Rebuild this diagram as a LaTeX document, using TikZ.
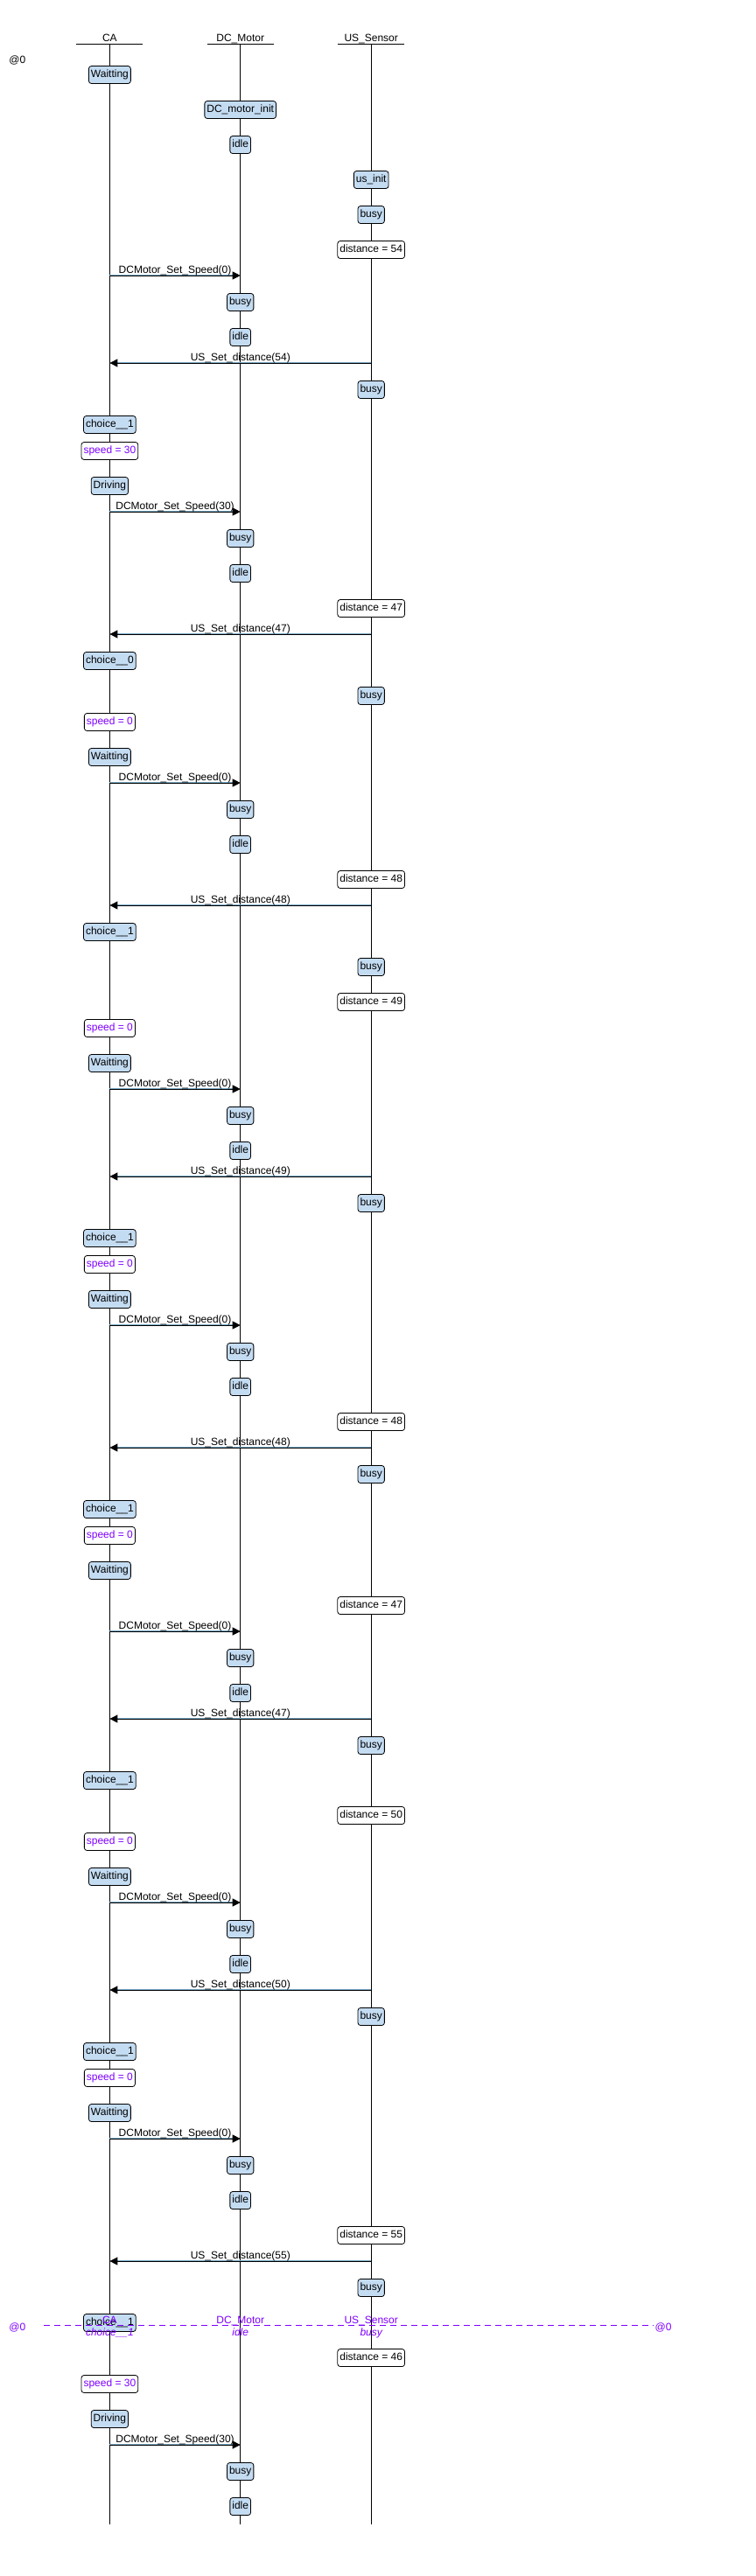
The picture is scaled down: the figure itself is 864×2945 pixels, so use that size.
\documentclass[tikz,border=0pt]{standalone}
\usepackage{fontspec}
\setmainfont{Liberation Sans}
\usetikzlibrary{arrows.meta,calc}
\definecolor{stfill}{RGB}{196,220,242}
\definecolor{purp}{RGB}{127,0,255}
\definecolor{msgblue}{RGB}{120,170,200}
\newcommand\fs{\fontsize{12}{14}\selectfont}
\newcommand\xCA{125.4}
\newcommand\xDC{274.7}
\newcommand\xUS{424.2}
% message CA -> DC_Motor
\newcommand\MsgCD[3]{%
  \coordinate (#1a) at (\xCA,#2);
  \coordinate (#1b) at (\xDC,#2);
  \draw[msghl] ([yshift=1pt]#1a) -- ([yshift=1pt]#1b);
  \draw[msg] (#1a) -- (#1b);
  \node[mlabel] (#1l) at ($(#1a)!0.5!(#1b)+(0,-2.3)$) {#3};
}
% message US_Sensor -> CA
\newcommand\MsgUC[3]{%
  \coordinate (#1a) at (\xUS,#2);
  \coordinate (#1b) at (\xCA,#2);
  \draw[msghl] ([yshift=1pt]#1a) -- ([yshift=1pt]#1b);
  \draw[msg] (#1a) -- (#1b);
  \node[mlabel] (#1l) at ($(#1a)!0.5!(#1b)+(0,-2.3)$) {#3};
}
\begin{document}
\begin{tikzpicture}[x=1pt,y=-1pt,
  st/.style={draw=black, line width=0.8pt, fill=stfill, rounded corners=3pt,
    minimum height=20pt, inner xsep=2.5pt, inner ysep=0pt,
    text height=8.8pt, text depth=2.6pt, font=\fs},
  val/.style={st, fill=white},
  spd/.style={val, text=purp},
  life/.style={line width=0.8pt},
  headline/.style={line width=1pt},
  headtext/.style={font=\fs, anchor=base, inner sep=0pt},
  msg/.style={line width=1pt, -{Triangle[length=9pt,width=9pt]}},
  msghl/.style={line width=0.7pt, draw=msgblue, shorten >=9pt},
  mlabel/.style={font=\fs, anchor=base, inner sep=0pt},
  ptext/.style={font=\fs, text=purp, inner sep=0pt},
  pdash/.style={draw=purp, line width=0.8pt, dash pattern=on 7pt off 5pt}
]
\fill[white] (0,0) rectangle (864,2945);
\useasboundingbox (0,0) rectangle (864,2945);

% time marker
\node[font=\fs, inner sep=0pt] (t0) at (19.8,69) {@0};

% headers and lifelines
\node[headtext] (hCA) at (\xCA,47.5) {CA};
\node[headtext] (hDC) at (\xDC,47.5) {DC\_Motor};
\node[headtext] (hUS) at (\xUS,47.5) {US\_Sensor};
\coordinate (caTop) at (\xCA,50.3);
\coordinate (dcTop) at (\xDC,50.3);
\coordinate (usTop) at (\xUS,50.3);
\coordinate (caBot) at (\xCA,2885.7);
\coordinate (dcBot) at (\xDC,2885.7);
\coordinate (usBot) at (\xUS,2885.7);
\draw[headline] ([xshift=-38pt]caTop) -- ([xshift=38pt]caTop);
\draw[headline] ([xshift=-38pt]dcTop) -- ([xshift=38pt]dcTop);
\draw[headline] ([xshift=-38pt]usTop) -- ([xshift=38pt]usTop);
\draw[life] (caTop) -- (caBot);
\draw[life] (dcTop) -- (dcBot);
\draw[life] (usTop) -- (usBot);

% messages
\MsgCD{m1}{315}{DCMotor\_Set\_Speed(0)}
\MsgUC{m2}{415}{US\_Set\_distance(54)}
\MsgCD{m3}{585}{DCMotor\_Set\_Speed(30)}
\MsgUC{m4}{725}{US\_Set\_distance(47)}
\MsgCD{m5}{895}{DCMotor\_Set\_Speed(0)}
\MsgUC{m6}{1035}{US\_Set\_distance(48)}
\MsgCD{m7}{1245}{DCMotor\_Set\_Speed(0)}
\MsgUC{m8}{1345}{US\_Set\_distance(49)}
\MsgCD{m9}{1515}{DCMotor\_Set\_Speed(0)}
\MsgUC{m10}{1655}{US\_Set\_distance(48)}
\MsgCD{m11}{1865}{DCMotor\_Set\_Speed(0)}
\MsgUC{m12}{1965}{US\_Set\_distance(47)}
\MsgCD{m13}{2175}{DCMotor\_Set\_Speed(0)}
\MsgUC{m14}{2275}{US\_Set\_distance(50)}
\MsgCD{m15}{2445}{DCMotor\_Set\_Speed(0)}
\MsgUC{m16}{2585}{US\_Set\_distance(55)}
\MsgCD{m17}{2795}{DCMotor\_Set\_Speed(30)}

% CA states
\node[st]  (ca1)  at (\xCA,85.5)   {Waitting};
\node[st]  (ca2)  at (\xCA,485.5)  {choice\_\_1};
\node[spd] (ca3)  at (\xCA,515.5)  {speed = 30};
\node[st]  (ca4)  at (\xCA,555.5)  {Driving};
\node[st]  (ca5)  at (\xCA,755.5)  {choice\_\_0};
\node[spd] (ca6)  at (\xCA,825.5)  {speed = 0};
\node[st]  (ca7)  at (\xCA,865.5)  {Waitting};
\node[st]  (ca8)  at (\xCA,1065.5) {choice\_\_1};
\node[spd] (ca9)  at (\xCA,1175.5) {speed = 0};
\node[st]  (ca10) at (\xCA,1215.5) {Waitting};
\node[st]  (ca11) at (\xCA,1415.5) {choice\_\_1};
\node[spd] (ca12) at (\xCA,1445.5) {speed = 0};
\node[st]  (ca13) at (\xCA,1485.5) {Waitting};
\node[st]  (ca14) at (\xCA,1725.5) {choice\_\_1};
\node[spd] (ca15) at (\xCA,1755.5) {speed = 0};
\node[st]  (ca16) at (\xCA,1795.5) {Waitting};
\node[st]  (ca17) at (\xCA,2035.5) {choice\_\_1};
\node[spd] (ca18) at (\xCA,2105.5) {speed = 0};
\node[st]  (ca19) at (\xCA,2145.5) {Waitting};
\node[st]  (ca20) at (\xCA,2345.5) {choice\_\_1};
\node[spd] (ca21) at (\xCA,2375.5) {speed = 0};
\node[st]  (ca22) at (\xCA,2415.5) {Waitting};
\node[st]  (ca23) at (\xCA,2655.5) {choice\_\_1};
\node[spd] (ca24) at (\xCA,2725.5) {speed = 30};
\node[st]  (ca25) at (\xCA,2765.5) {Driving};

% DC_Motor states
\node[st] (dc1)  at (\xDC,125.5)  {DC\_motor\_init};
\node[st] (dc2)  at (\xDC,165.5)  {idle};
\node[st] (dc3)  at (\xDC,345.5)  {busy};
\node[st] (dc4)  at (\xDC,385.5)  {idle};
\node[st] (dc5)  at (\xDC,615.5)  {busy};
\node[st] (dc6)  at (\xDC,655.5)  {idle};
\node[st] (dc7)  at (\xDC,925.5)  {busy};
\node[st] (dc8)  at (\xDC,965.5)  {idle};
\node[st] (dc9)  at (\xDC,1275.5) {busy};
\node[st] (dc10) at (\xDC,1315.5) {idle};
\node[st] (dc11) at (\xDC,1545.5) {busy};
\node[st] (dc12) at (\xDC,1585.5) {idle};
\node[st] (dc13) at (\xDC,1895.5) {busy};
\node[st] (dc14) at (\xDC,1935.5) {idle};
\node[st] (dc15) at (\xDC,2205.5) {busy};
\node[st] (dc16) at (\xDC,2245.5) {idle};
\node[st] (dc17) at (\xDC,2475.5) {busy};
\node[st] (dc18) at (\xDC,2515.5) {idle};
\node[st] (dc19) at (\xDC,2825.5) {busy};
\node[st] (dc20) at (\xDC,2865.5) {idle};

% US_Sensor states
\node[st]  (us1)  at (\xUS,205.5)  {us\_init};
\node[st]  (us2)  at (\xUS,245.5)  {busy};
\node[val] (us3)  at (\xUS,285.5)  {distance = 54};
\node[st]  (us4)  at (\xUS,445.5)  {busy};
\node[val] (us5)  at (\xUS,695.5)  {distance = 47};
\node[st]  (us6)  at (\xUS,795.5)  {busy};
\node[val] (us7)  at (\xUS,1005.5) {distance = 48};
\node[st]  (us8)  at (\xUS,1105.5) {busy};
\node[val] (us9)  at (\xUS,1145.5) {distance = 49};
\node[st]  (us10) at (\xUS,1375.5) {busy};
\node[val] (us11) at (\xUS,1625.5) {distance = 48};
\node[st]  (us12) at (\xUS,1685.5) {busy};
\node[val] (us13) at (\xUS,1835.5) {distance = 47};
\node[st]  (us14) at (\xUS,1995.5) {busy};
\node[val] (us15) at (\xUS,2075.5) {distance = 50};
\node[st]  (us16) at (\xUS,2305.5) {busy};
\node[val] (us17) at (\xUS,2555.5) {distance = 55};
\node[st]  (us18) at (\xUS,2615.5) {busy};
\node[val] (us19) at (\xUS,2695.5) {distance = 46};

% current time marker (purple)
\coordinate (cutL) at (49.5,2658.3);
\coordinate (cutR) at (747,2658.3);
\draw[pdash] (cutL) -- (cutR);
\node[ptext] (cutAtL) at (19.8,2661) {@0};
\node[ptext] (cutAtR) at (758,2661) {@0};
\node[ptext, anchor=base] (cCA) at (\xCA,2656) {CA};
\node[ptext, anchor=base] (cDC) at (\xDC,2656) {DC\_Motor};
\node[ptext, anchor=base] (cUS) at (\xUS,2656) {US\_Sensor};
\node[ptext, anchor=base, font=\fs\itshape] (sCA) at (\xCA,2670.5) {choice\_\_1};
\node[ptext, anchor=base, font=\fs\itshape] (sDC) at (\xDC,2670.5) {idle};
\node[ptext, anchor=base, font=\fs\itshape] (sUS) at (\xUS,2670.5) {busy};
\end{tikzpicture}
\end{document}
